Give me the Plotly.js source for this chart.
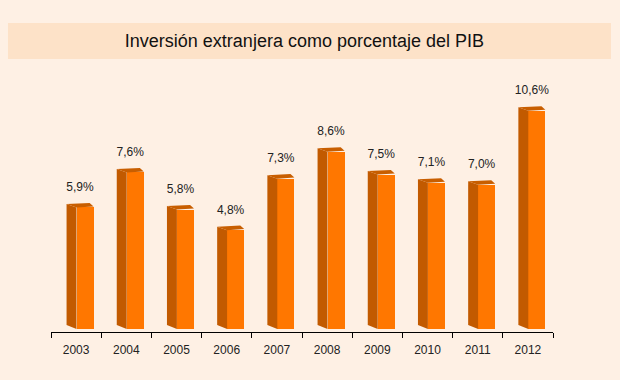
<!DOCTYPE html>
<html>
<head>
<meta charset="utf-8">
<script src="https://cdn.plot.ly/plotly-3.0.1.min.js"></script>
<style>html,body{margin:0;padding:0;background:#fef0e4;}#chart{width:620px;height:380px;}</style>
</head>
<body>
<div id="chart"></div>
<script>
const years = ["2003","2004","2005","2006","2007","2008","2009","2010","2011","2012"];
const values = [5.9, 7.6, 5.8, 4.8, 7.3, 8.6, 7.5, 7.1, 7.0, 10.6];
const titleText = "Inversión extranjera como porcentaje del PIB";

const idx = years.map((_, i) => i);
const FRONT_W = 0.34, FRONT_OFF = 0.008;
const SIDE_DX = -0.19, DEPTH_DY = 0.17, TOP_BACK_R = 0.27;
const frontColor = "#ff7700", sideColor = "#c25a00", topColor = "#c85e00";

const shapes = [];
// title band
shapes.push({type:"rect", xref:"paper", yref:"paper", x0:-0.0857, x1:1.1155, y0:1.0037, y1:1.136,
  fillcolor:"#fde2c8", line:{width:0}, layer:"below"});
idx.forEach(i => {
  const v = values[i];
  const xl = i + FRONT_OFF, xr = xl + FRONT_W, xs = i + SIDE_DX;
  shapes.push({type:"path", xref:"x", yref:"y",
    path:`M ${xs} ${DEPTH_DY+0.02} L ${xl} 0 L ${xl} ${v} L ${xs} ${v+DEPTH_DY} Z`,
    fillcolor:sideColor, line:{width:0}});
  shapes.push({type:"path", xref:"x", yref:"y",
    path:`M ${xs} ${v+DEPTH_DY} L ${i+TOP_BACK_R} ${v+DEPTH_DY+0.05} L ${xr} ${v+0.05} L ${xl} ${v} Z`,
    fillcolor:topColor, line:{width:0}});
});

const traces = [
  {type:"bar", x:idx, y:values, width:FRONT_W, offset:FRONT_OFF,
   marker:{color:frontColor, line:{width:0}}, hoverinfo:"skip", showlegend:false},
  {type:"scatter", mode:"text", x:idx.map(i => i + 0.078), y:values.map(v => v + 0.95),
   text:values.map(v => v.toFixed(1).replace(".", ",") + "%"),
   textposition:"middle center", textfont:{size:12, color:"#222", family:"Liberation Sans, Arial, sans-serif"},
   hoverinfo:"skip", showlegend:false}
];

const layout = {
  width:620, height:380,
  paper_bgcolor:"#fef0e4", plot_bgcolor:"rgba(0,0,0,0)",
  margin:{l:51, r:67, t:60, b:48},
  font:{family:"Liberation Sans, Arial, sans-serif", color:"#222"},
  separators:",.",
  title:{text:titleText, font:{size:18, color:"#111"}, x:0.491, xref:"container", xanchor:"center",
         y:0.893, yref:"container", yanchor:"middle"},
  xaxis:{range:[-0.5, 9.5], tickmode:"array", tickvals:idx, ticktext:years, ticks:"",
    showline:true, linecolor:"#000", linewidth:1, showgrid:false, zeroline:false,
    tickfont:{size:12, color:"#222"}, fixedrange:true, ticklabelstandoff:7,
    minor:{tickmode:"linear", tick0:-0.5, dtick:1, ticks:"outside", ticklen:5, tickcolor:"#000", tickwidth:1, showgrid:false}},
  yaxis:{range:[-0.146, 13.06], visible:false, showgrid:false, zeroline:false, fixedrange:true},
  shapes:shapes,
  showlegend:false,
  bargap:0
};
Plotly.newPlot("chart", traces, layout, {displayModeBar:false, staticPlot:true});
</script>
</body>
</html>
